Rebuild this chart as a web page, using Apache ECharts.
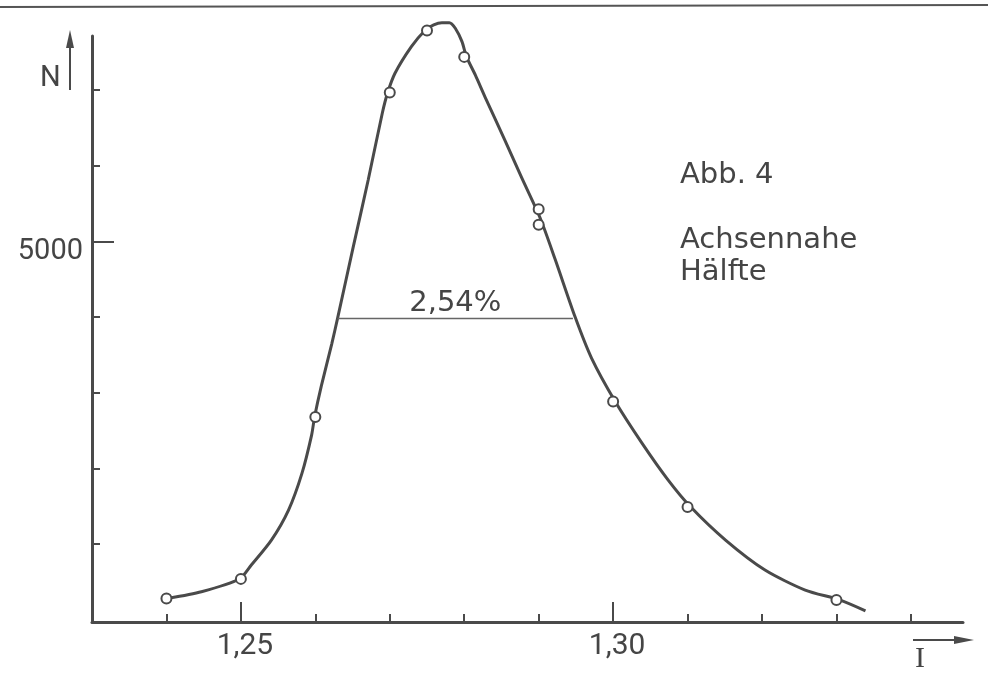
<!DOCTYPE html>
<html><head><meta charset="utf-8">
<script src="https://cdn.jsdelivr.net/npm/echarts@6/dist/echarts.min.js"></script>
<style>html,body{margin:0;padding:0;background:#fff}#c{width:988px;height:675px}</style>
</head><body><div id="c"></div>
<script>
// Tick positions / labels
const xLabelTicks = [1.25, 1.30];
const xMinorTicks = [1.24, 1.26, 1.27, 1.28, 1.29, 1.31, 1.32, 1.33, 1.34];
const yLabelTicks = [5000];
const yMinorTicks = [1000, 2000, 3000, 4000, 6000, 7000];

// Measured points (open circles)
const pointI = [1.240, 1.250, 1.260, 1.270, 1.275, 1.280, 1.290, 1.290, 1.300, 1.310, 1.330];
const pointN = [280, 540, 2680, 6970, 7790, 7440, 5425, 5220, 2885, 1490, 260];

// Hand-drawn fitted curve
const curveI = [1.2402, 1.2447, 1.2498, 1.2514, 1.2541, 1.2564, 1.2582, 1.2595, 1.2599, 1.2608,
  1.2622, 1.2630, 1.2651, 1.2671, 1.2690, 1.2697, 1.2707, 1.2729, 1.2747, 1.2759,
  1.2770, 1.2780, 1.2788, 1.2797, 1.2803, 1.2815, 1.2828, 1.2855, 1.2877, 1.2902,
  1.2922, 1.2949, 1.2971, 1.3003, 1.3039, 1.3074, 1.3104, 1.3151, 1.3204, 1.3258,
  1.3305, 1.3339];
const curveN = [282, 370, 538, 723, 1053, 1450, 1935, 2441, 2683, 3089,
  3644, 3990, 4931, 5813, 6698, 6962, 7223, 7575, 7786, 7862,
  7892, 7892, 7818, 7641, 7443, 7198, 6909, 6329, 5846, 5310,
  4768, 4001, 3459, 2882, 2332, 1846, 1493, 1053, 657, 392,
  260, 118];

// Half-width marker
const halfWidthI = [1.2630, 1.2946];
const halfWidthN = 3990;
const halfWidthLabel = '2,54%';

const INK = '#4a4a4a';
const TXT = '#454545';
const NUMFONT = 'Roboto';
const WORDFONT = 'DejaVu Sans';

const chart = echarts.init(document.getElementById('c'), null, {renderer: 'canvas'});
const fmtX = v => v.toFixed(2).replace('.', ',');
const fmtY = v => String(Math.round(v));

const xCommon = {type: 'value', min: 1.23, max: 1.347, splitLine: {show: false}};
const yCommon = {type: 'value', min: -30, max: 7716, splitLine: {show: false}};

chart.setOption({
  backgroundColor: '#ffffff',
  animation: false,
  grid: {left: 92, right: 25, top: 36, bottom: 53, containLabel: false},
  xAxis: [
    Object.assign({}, xCommon, {
      position: 'bottom',
      axisLine: {show: true, onZero: false, lineStyle: {color: INK, width: 3}},
      axisTick: {show: true, inside: true, length: 20, customValues: xLabelTicks, lineStyle: {color: INK, width: 2}},
      axisLabel: {show: true, customValues: xLabelTicks, formatter: fmtX, margin: 9,
        fontFamily: NUMFONT, fontSize: 30, color: TXT, padding: [0, 0, 0, 8]}
    }),
    Object.assign({}, xCommon, {
      position: 'bottom',
      axisLine: {show: false, onZero: false},
      axisTick: {show: true, inside: true, length: 8, customValues: xMinorTicks, lineStyle: {color: INK, width: 2}},
      axisLabel: {show: false}
    })
  ],
  yAxis: [
    Object.assign({}, yCommon, {
      position: 'left',
      axisLine: {show: true, onZero: false, lineStyle: {color: INK, width: 3}},
      axisTick: {show: true, inside: true, length: 22, customValues: yLabelTicks, lineStyle: {color: INK, width: 2}},
      axisLabel: {show: true, customValues: yLabelTicks, formatter: fmtY, margin: 9,
        verticalAlign: 'top', lineHeight: 20,
        fontFamily: NUMFONT, fontSize: 29, color: TXT}
    }),
    Object.assign({}, yCommon, {
      position: 'left',
      axisLine: {show: false, onZero: false},
      axisTick: {show: true, inside: true, length: 8, customValues: yMinorTicks, lineStyle: {color: INK, width: 2}},
      axisLabel: {show: false}
    })
  ],
  series: [
    {
      type: 'line',
      xAxisIndex: 0, yAxisIndex: 0,
      data: curveI.map((x, i) => [x, curveN[i]]),
      smooth: 0.25,
      showSymbol: false,
      clip: false,
      lineStyle: {color: INK, width: 3},
      z: 2,
      markLine: {
        symbol: 'none',
        silent: true,
        lineStyle: {color: '#666', width: 1.3, type: 'solid'},
        label: {show: true, position: 'middle', formatter: halfWidthLabel, distance: 0,
          fontFamily: WORDFONT, fontSize: 29, color: TXT},
        data: [[{coord: [halfWidthI[0], halfWidthN]}, {coord: [halfWidthI[1], halfWidthN]}]]
      }
    },
    {
      type: 'scatter',
      xAxisIndex: 0, yAxisIndex: 0,
      data: pointI.map((x, i) => [x, pointN[i]]),
      symbol: 'circle',
      symbolSize: 10,
      clip: false,
      itemStyle: {color: '#ffffff', borderColor: INK, borderWidth: 2, opacity: 1},
      z: 3
    }
  ],
  graphic: [
    {type: 'line', shape: {x1: 0, y1: 7, x2: 988, y2: 5}, style: {stroke: '#555', lineWidth: 2}},
    {type: 'line', shape: {x1: 70, y1: 90, x2: 70, y2: 44}, style: {stroke: INK, lineWidth: 2}},
    {type: 'polygon', shape: {points: [[70, 30], [66, 48], [74, 48]]}, style: {fill: INK}},
    {type: 'text', style: {text: 'N', x: 40, y: 64, fontFamily: NUMFONT, fontSize: 29, fill: TXT, verticalAlign: 'top'}},
    {type: 'line', shape: {x1: 913, y1: 640, x2: 958, y2: 640}, style: {stroke: INK, lineWidth: 2}},
    {type: 'polygon', shape: {points: [[974, 640], [954, 636], [954, 644]]}, style: {fill: INK}},
    {type: 'text', style: {text: 'I', x: 920, y: 644, align: 'center', fontFamily: 'Liberation Serif', fontSize: 30, fill: TXT, verticalAlign: 'top'}},
    {type: 'text', style: {text: 'Abb. 4', x: 680, y: 161, fontFamily: WORDFONT, fontSize: 29, fill: TXT, verticalAlign: 'top'}},
    {type: 'text', style: {text: 'Achsennahe', x: 680, y: 226, fontFamily: WORDFONT, fontSize: 29, fill: TXT, verticalAlign: 'top'}},
    {type: 'text', style: {text: 'Hälfte', x: 680, y: 258, fontFamily: WORDFONT, fontSize: 29, fill: TXT, verticalAlign: 'top'}}
  ]
});
</script>
</body></html>
